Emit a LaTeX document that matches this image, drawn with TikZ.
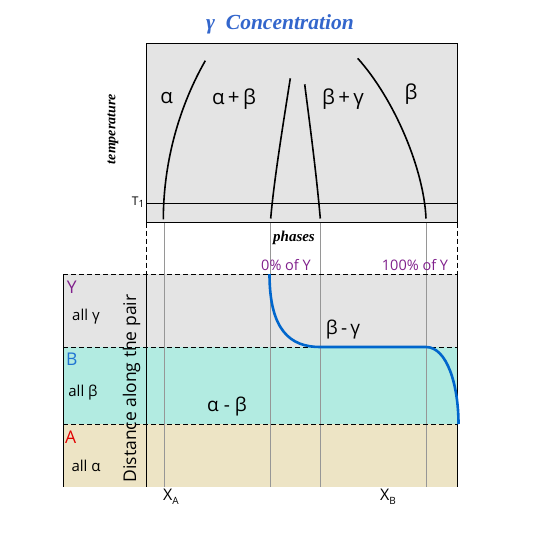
\documentclass[tikz,border=0pt]{standalone}
\usepackage{fontspec}
\setmainfont{Liberation Serif}
\newfontfamily\osans{Open Sans}
\definecolor{boxgray}{RGB}{228,228,228}
\definecolor{cyanfill}{RGB}{178,235,225}
\definecolor{tanfill}{RGB}{237,228,197}
\definecolor{titleblue}{RGB}{51,102,204}
\definecolor{curveblue}{RGB}{0,102,204}
\definecolor{purp}{RGB}{128,32,140}
\definecolor{bblue}{RGB}{30,115,210}
\definecolor{ared}{RGB}{225,0,0}
\definecolor{guide}{RGB}{150,150,150}
\begin{document}
\begin{tikzpicture}[x=1pt,y=-1pt,
  phase/.style={black,line width=1.6pt},
  guideline/.style={guide,line width=0.8pt},
  dashline/.style={black,dash pattern=on 5pt off 3pt,line width=0.8pt},
  sans/.style={font=\osans\fontsize{#1}{#1}\selectfont,inner sep=0pt},
  seriflbl/.style={font=\bfseries\itshape\fontsize{#1}{#1}\selectfont,inner sep=0pt}]
\useasboundingbox (0,0) rectangle (550,550);
% bottom bands
\fill[boxgray] (63,274) rectangle (457,347);
\fill[cyanfill] (63,347) rectangle (457,424);
\fill[tanfill] (63,424) rectangle (457,487);
% top box
\draw[fill=boxgray,line width=0.8pt] (146,43.5) rectangle (457,222.5);
\draw[line width=0.8pt] (146,203.5) -- (457,203.5);
% guide lines
\foreach \x in {164,270,320,426} \draw[guideline] (\x,222.5) -- (\x,487);
% dashed lines
\draw[dashline] (146,222.5) -- (146,274);
\draw[dashline] (457,222.5) -- (457,274);
\draw[dashline] (63,274) -- (457,274);
\draw[dashline] (63,347) -- (457,347);
\draw[dashline] (63,424) -- (457,424);
% solid verticals
\draw[line width=0.8pt] (63,274) -- (63,487);
\draw[line width=0.8pt] (146,274) -- (146,487);
\draw[line width=0.8pt] (457,274) -- (457,487);
% phase boundaries
\draw[phase] (163.3,219.3) .. controls (163.5,160) and (180,105) .. (205.3,60.7);
\draw[phase] (270.7,218.5) .. controls (274,180) and (283,125) .. (290.3,78.3);
\draw[phase] (304.7,84.3) .. controls (310,126) and (316,170) .. (320.3,218.5);
\draw[phase] (357.7,58.3) .. controls (395,100) and (424,170) .. (426,218.5);
% blue profile
\draw[curveblue,line width=2.6pt] (269.5,274) .. controls (269.5,330) and (290,347) .. (320,347)
  -- (426,347) .. controls (447,347) and (458.5,385) .. (458.5,424);
% texts
\node[seriflbl=21.5,text=titleblue] (title) at (280,24) {γ\ \ Concentration};
\node[seriflbl=14,rotate=90] (temp) at (113,129) {temperature};
\node[sans=12,anchor=east] (t1) at (144.5,202) {T\raisebox{-0.35ex}{\fontsize{10}{10}\selectfont 1}};
\node[sans=20.5] (la) at (166.7,98.3) {α};
\node[sans=20.5] (lab) at (234,99.3) {α\,+\,β};
\node[sans=20.5] (lbg) at (343,99.5) {β\,+\,γ};
\node[sans=20.5] (lb) at (411,94) {β};
\node[seriflbl=15] (phases) at (294,238) {phases};
\node[sans=14.5,text=purp] (p0) at (286,265.5) {0\% of Y};
\node[sans=14.5,text=purp] (p100) at (415,265.5) {100\% of Y};
\node[sans=19] (bg) at (343,330) {β\,-\,γ};
\node[sans=19] (ab) at (227,407) {α - β};
\node[sans=17.5,text=purp] (Y) at (71.7,287) {Y};
\node[sans=15] (ag) at (86,317) {all γ};
\node[sans=17.5,text=bblue] (B) at (71.7,359) {B};
\node[sans=15] (ab2) at (83,393) {all β};
\node[sans=17.5,text=ared] (A) at (70.7,437.5) {A};
\node[sans=15] (aa) at (86,466) {all α};
\node[sans=17.5,rotate=90] (dist) at (131.5,388.5) {Distance along the pair};
\node[sans=16] (xa) at (171,497) {X\raisebox{-0.5ex}{\fontsize{10}{10}\selectfont A}};
\node[sans=16] (xb) at (388,497) {X\raisebox{-0.5ex}{\fontsize{10}{10}\selectfont B}};
\end{tikzpicture}
\end{document}
